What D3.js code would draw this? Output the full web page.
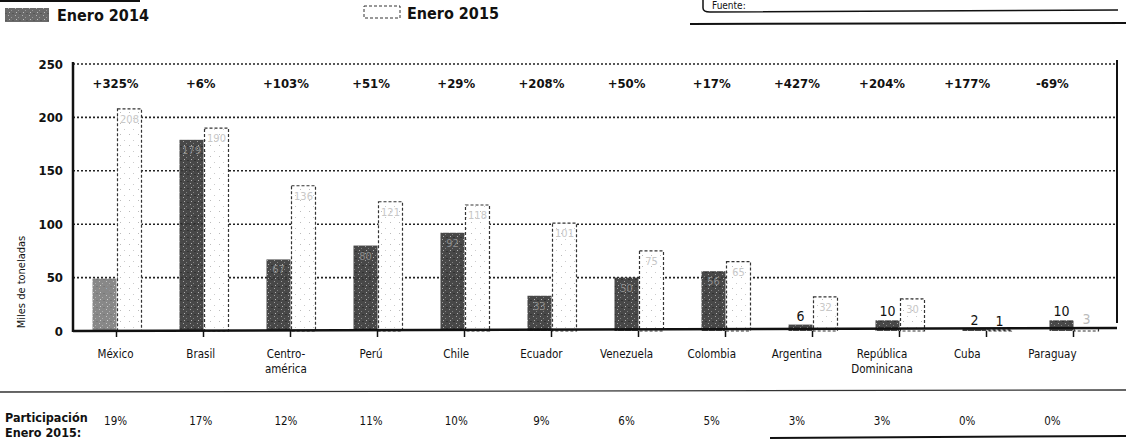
<!doctype html>
<html>
<head>
<meta charset="UTF-8">
<title>Enero 2014 vs Enero 2015</title>
<script src="https://cdn.jsdelivr.net/npm/d3@7"></script>
<style>
  body { margin: 0; background: #fff; }
  text { font-family: "DejaVu Sans Condensed", "Liberation Sans Narrow", sans-serif; font-stretch: condensed; fill: #111; }
</style>
</head>
<body>
<script>
// datos (miles de toneladas)
var paises = ["México", "Brasil", "Centro-|américa", "Perú", "Chile", "Ecuador", "Venezuela",
              "Colombia", "Argentina", "República|Dominicana", "Cuba", "Paraguay"];
var ene2014 = [49, 179, 67, 80, 92, 33, 50, 56, 6, 10, 2, 10];
var ene2015 = [208, 190, 136, 121, 118, 101, 75, 65, 32, 30, 1, 3];
var variacion = ["+325%", "+6%", "+103%", "+51%", "+29%", "+208%", "+50%", "+17%",
                 "+427%", "+204%", "+177%", "-69%"];
var participacion = ["19%", "17%", "12%", "11%", "10%", "9%", "6%", "5%", "3%", "3%", "0%", "0%"];
var yTicks = [0, 50, 100, 150, 200, 250];

var W = 1126, H = 445;
var izq = 73, der = 1117, arriba = 64, base = 331;

var svg = d3.select("body").append("svg").attr("width", W).attr("height", H);

// texturas de la impresion
var defs = svg.append("defs");
var p1 = defs.append("pattern").attr("id", "oscuro").attr("patternUnits", "userSpaceOnUse")
  .attr("width", 7).attr("height", 7);
p1.append("rect").attr("width", 7).attr("height", 7).attr("fill", "#383838");
p1.append("rect").attr("x", 1).attr("y", 1).attr("width", 1).attr("height", 1).attr("fill", "#999");
p1.append("rect").attr("x", 4).attr("y", 3).attr("width", 1).attr("height", 1).attr("fill", "#777");
p1.append("rect").attr("x", 2).attr("y", 5).attr("width", 1).attr("height", 1).attr("fill", "#aaa");
p1.append("rect").attr("x", 5).attr("y", 6).attr("width", 2).attr("height", 1).attr("fill", "#222");

var p2 = defs.append("pattern").attr("id", "claro").attr("patternUnits", "userSpaceOnUse")
  .attr("width", 9).attr("height", 11);
p2.append("rect").attr("width", 9).attr("height", 11).attr("fill", "#fff");
p2.append("rect").attr("x", 3).attr("y", 2).attr("width", 1).attr("height", 1).attr("fill", "#bbb");
p2.append("rect").attr("x", 7).attr("y", 8).attr("width", 1).attr("height", 1).attr("fill", "#ccc");

// escalas
var x = d3.scaleBand().domain(paises).range([izq, der]);
var xt = d3.scaleBand().domain(paises).range([izq, 1095]);   // filas de texto
var xs = d3.scaleBand().domain(["e14", "e15"]).range([-24, 25]).paddingInner(0.04);
var y = d3.scaleLinear().domain([0, 250]).range([base, arriba]);

function cx(d) { return x(d) + x.bandwidth() / 2; }
function tx(d) { return xt(d) + xt.bandwidth() / 2; }

// leyenda
svg.append("line").attr("x1", 0).attr("x2", 140).attr("y1", 1).attr("y2", 1)
  .attr("stroke", "#111").attr("stroke-width", 2);
svg.append("rect").attr("x", 5).attr("y", 8).attr("width", 44).attr("height", 14)
  .attr("fill", "url(#oscuro)").attr("opacity", 0.75);
svg.append("text").attr("x", 57).attr("y", 21).attr("font-size", 16).attr("font-weight", "bold")
  .text("Enero 2014");
svg.append("rect").attr("x", 364).attr("y", 6).attr("width", 36).attr("height", 12)
  .attr("fill", "#fff").attr("stroke", "#333").attr("stroke-dasharray", "3,2");
svg.append("text").attr("x", 407).attr("y", 19).attr("font-size", 16).attr("font-weight", "bold")
  .text("Enero 2015");

// recuadro de fuente (cortado arriba)
svg.append("path").attr("d", "M703,-2 L703,8 Q703,12 710,12 L1118,10")
  .attr("fill", "none").attr("stroke", "#111").attr("stroke-width", 1.5);
svg.append("text").attr("x", 712).attr("y", 9).attr("font-size", 10).attr("fill", "#333").text("Fuente:");
svg.append("line").attr("x1", 690).attr("x2", 1126).attr("y1", 24).attr("y2", 23)
  .attr("stroke", "#111").attr("stroke-width", 2);

// rejilla punteada
svg.append("g").selectAll("line").data(yTicks.filter(function(t) { return t > 0; }))
  .join("line")
  .attr("x1", izq).attr("x2", der)
  .attr("y1", function(d) { return y(d); }).attr("y2", function(d) { return y(d); })
  .attr("stroke", "#222").attr("stroke-width", 1.6).attr("stroke-dasharray", "2,2");

// eje y
var yAxis = svg.append("g").attr("transform", "translate(" + izq + ",0)")
  .call(d3.axisLeft(y).tickValues(yTicks).tickSize(0).tickPadding(10));
yAxis.select(".domain").remove();
yAxis.selectAll("text").attr("font-size", 13).attr("font-weight", "bold")
  .style("font-family", "'DejaVu Sans Condensed', sans-serif").style("font-stretch", "condensed");

svg.append("text").attr("transform", "translate(25,282) rotate(-90)")
  .attr("text-anchor", "middle").attr("font-size", 11).text("Miles de toneladas");

// barras
var g = svg.append("g");
g.selectAll("rect.e14").data(paises).join("rect").attr("class", "e14")
  .attr("x", function(d) { return cx(d) + xs("e14"); })
  .attr("width", xs.bandwidth())
  .attr("y", function(d, i) { return y(ene2014[i]); })
  .attr("height", function(d, i) { return Math.max(base - y(ene2014[i]), 2); })
  .attr("fill", "url(#oscuro)")
  .attr("opacity", function(d, i) { return i === 0 ? 0.6 : 0.92; });

g.selectAll("rect.e15").data(paises).join("rect").attr("class", "e15")
  .attr("x", function(d) { return cx(d) + xs("e15"); })
  .attr("width", xs.bandwidth())
  .attr("y", function(d, i) { return y(ene2015[i]); })
  .attr("height", function(d, i) { return Math.max(base - y(ene2015[i]), 1); })
  .attr("fill", "url(#claro)")
  .attr("stroke", "#333").attr("stroke-width", 1.2).attr("stroke-dasharray", "3,2");

// etiquetas de valor (dentro de la barra casi ilegibles en la impresion)
function etiqueta(serie, key, claro) {
  g.selectAll("text." + key).data(paises).join("text").attr("class", key)
    .attr("x", function(d) { return cx(d) + xs(key) + xs.bandwidth() / 2; })
    .attr("y", function(d, i) {
      var v = serie[i];
      return v < 15 ? y(v) - 4 : y(v) + 14;
    })
    .attr("text-anchor", "middle")
    .attr("font-size", function(d, i) { return serie[i] < 15 ? 14 : 11; })
    .style("fill", function(d, i) {
      if (serie[i] < 15) return key === "e15" && i === 11 ? "#bbb" : "#111";
      return claro ? "#c8c8c8" : "#8a8a8a";
    })
    .text(function(d, i) { return serie[i]; });
}
etiqueta(ene2014, "e14", false);
etiqueta(ene2015, "e15", true);

// marco
svg.append("line").attr("x1", izq).attr("x2", izq).attr("y1", arriba - 2).attr("y2", base + 1)
  .attr("stroke", "#111").attr("stroke-width", 2.5);
svg.append("line").attr("x1", izq).attr("x2", der).attr("y1", base).attr("y2", base - 3)
  .attr("stroke", "#111").attr("stroke-width", 2.5);
svg.append("line").attr("x1", der).attr("x2", der).attr("y1", arriba - 4).attr("y2", base - 8)
  .attr("stroke", "#111").attr("stroke-width", 2);

// marcas del eje x
svg.append("g").selectAll("line").data(paises).join("line")
  .attr("x1", cx).attr("x2", cx).attr("y1", base).attr("y2", base + 6)
  .attr("stroke", "#111").attr("stroke-width", 1.5);

// variacion
svg.append("g").selectAll("text").data(paises).join("text")
  .attr("x", tx).attr("y", 88).attr("text-anchor", "middle")
  .attr("font-size", 13).attr("font-weight", "bold")
  .text(function(d, i) { return variacion[i]; });

// nombres de paises
var lab = svg.append("g").selectAll("text").data(paises).join("text")
  .attr("x", tx).attr("y", 358).attr("text-anchor", "middle").attr("font-size", 11.5);
lab.each(function(d) {
  var t = d3.select(this);
  d.split("|").forEach(function(s, k) {
    t.append("tspan").attr("x", tx(d)).attr("dy", k === 0 ? 0 : 15).text(s);
  });
});

// linea separadora
svg.append("line").attr("x1", 0).attr("x2", W).attr("y1", 392).attr("y2", 390)
  .attr("stroke", "#333").attr("stroke-width", 1.3);

// participacion
svg.append("text").attr("x", 5).attr("y", 422).attr("font-size", 12.5).attr("font-weight", "bold")
  .text("Participación");
svg.append("text").attr("x", 5).attr("y", 437).attr("font-size", 12.5).attr("font-weight", "bold")
  .text("Enero 2015:");
svg.append("g").selectAll("text").data(paises).join("text")
  .attr("x", tx).attr("y", 425).attr("text-anchor", "middle").attr("font-size", 11.5)
  .text(function(d, i) { return participacion[i]; });

svg.append("line").attr("x1", 770).attr("x2", W).attr("y1", 438).attr("y2", 436)
  .attr("stroke", "#111").attr("stroke-width", 2);
</script>
</body>
</html>
